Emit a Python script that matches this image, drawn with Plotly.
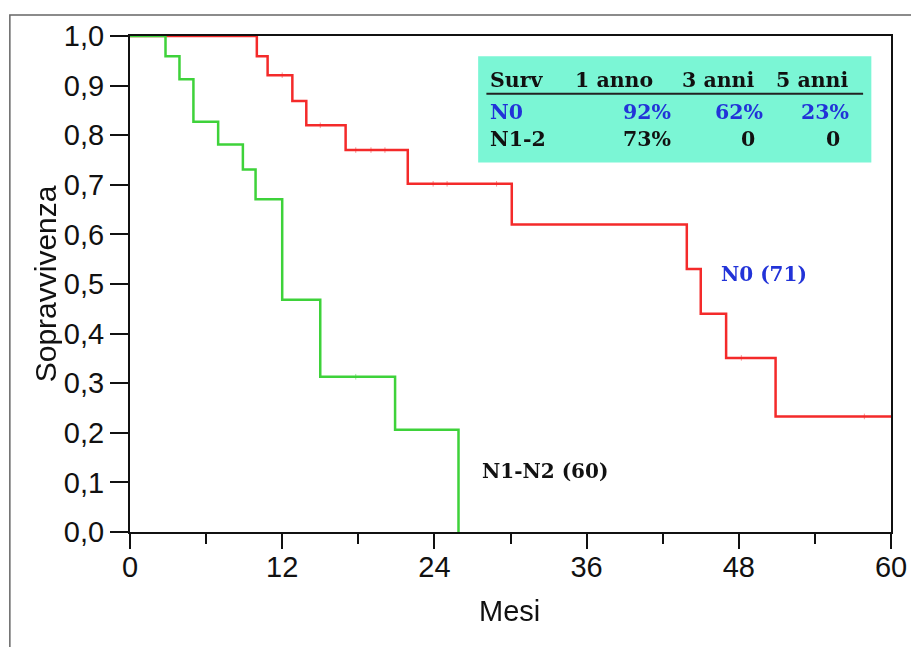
import plotly.graph_objects as go

# ---- data ----
n0_months = [0, 10, 10.85, 12.8, 13.9, 17.0, 21.9, 30.1, 43.9, 45.0, 47.0, 50.9, 60]
n0_surv = [1.0, 0.959, 0.921, 0.869, 0.820, 0.770, 0.702, 0.620, 0.530, 0.440, 0.351, 0.233, 0.233]
n0_censored = [12.0, 15.0, 17.8, 19.0, 20.1, 23.9, 25.0, 28.9, 48.2, 57.9]

n12_months = [0, 2.8, 3.9, 5.0, 6.95, 8.9, 9.9, 12.0, 15.0, 20.9, 25.9]
n12_surv = [1.0, 0.959, 0.913, 0.827, 0.781, 0.731, 0.671, 0.468, 0.313, 0.206, 0.0]
n12_censored = [17.8]

table_header = ["Surv", "1 anno", "3 anni", "5 anni"]
table_rows = ["N0", "N1-2"]
table_values = [["92%", "62%", "23%"], ["73%", "0", "0"]]

x_ticks = [0, 12, 24, 36, 48, 60]
y_ticks = [0.0, 0.1, 0.2, 0.3, 0.4, 0.5, 0.6, 0.7, 0.8, 0.9, 1.0]


def step_value(times, surv, t):
    v = surv[0]
    for ti, si in zip(times, surv):
        if ti <= t:
            v = si
    return v


RED = "#f42a2a"
GREEN = "#3ed23a"
BLUE = "#2233d8"

W, H = 911, 639
ML, MR, MT, MB = 122, 21, 22, 115
PW, PH = W - ML - MR, H - MT - MB

fig = go.Figure()
fig.add_trace(go.Scatter(x=n0_months, y=n0_surv, mode="lines", line_shape="hv",
                         line=dict(color=RED, width=2.5), name="N0 (71)"))
fig.add_trace(go.Scatter(x=n12_months, y=n12_surv, mode="lines", line_shape="hv",
                         line=dict(color=GREEN, width=2.5), name="N1-N2 (60)"))
fig.add_trace(go.Scatter(x=n0_censored, y=[step_value(n0_months, n0_surv, t) for t in n0_censored],
                         mode="markers", opacity=0.5,
                         marker=dict(symbol="line-ns", size=4, line=dict(color=RED, width=1)),
                         showlegend=False, hoverinfo="skip"))
fig.add_trace(go.Scatter(x=n12_censored, y=[step_value(n12_months, n12_surv, t) for t in n12_censored],
                         mode="markers", opacity=0.5,
                         marker=dict(symbol="line-ns", size=4, line=dict(color=GREEN, width=1)),
                         showlegend=False, hoverinfo="skip"))

AX_FONT = dict(family="Liberation Sans, Arial, sans-serif", size=29, color="#111")

fig.update_xaxes(range=[0, 60], tickvals=x_ticks, ticks="outside", ticklen=15, tickwidth=2,
                 tickcolor="#111", showline=True, linecolor="#111", linewidth=2, mirror=True,
                 showgrid=False, zeroline=False, tickfont=AX_FONT, ticklabelstandoff=-7,
                 minor=dict(dtick=6, tick0=0, ticks="outside", ticklen=10, tickwidth=2,
                            tickcolor="#111", showgrid=False))
fig.update_yaxes(range=[0, 1], tickvals=y_ticks, tickformat=".1f", ticks="outside", ticklen=18,
                 tickwidth=2, tickcolor="#111", showline=True, linecolor="#111", linewidth=2,
                 mirror=True, showgrid=False, zeroline=False, tickfont=AX_FONT)

shapes = []
# outer frame (paper-relative, drawn at the figure's top/left edge)
shapes.append(dict(type="rect", xref="paper", yref="paper",
                   x0=(0.75 - ML) / PW, x1=1.2, y0=-0.5, y1=1 + (MT - 0.75) / PH,
                   line=dict(color="#666", width=1.5), fillcolor="rgba(0,0,0,0)", layer="below"))
# table box
shapes.append(dict(type="rect", xref="x", yref="y", x0=27.45, x1=58.45, y0=0.745, y1=0.959,
                   line=dict(width=0), fillcolor="#7bf6d5", layer="below"))
# header underline
shapes.append(dict(type="line", xref="x", yref="y", x0=28.1, x1=57.8, y0=0.8835, y1=0.8835,
                   line=dict(color="#222", width=2)))

TB = dict(family="DejaVu Serif, serif", size=20.5, color="#111")
TBB = dict(TB, color=BLUE)

ann = []
header_x = [28.2, 34.9, 43.4, 50.8]
for h, x in zip(table_header, header_x):
    ann.append(dict(x=x, y=0.911, xref="x", yref="y", text="<b>" + h + "</b>", showarrow=False,
                    xanchor="left", yanchor="middle", font=TB))
row_y = [0.847, 0.793]
val_x = [42.8, 50.1, 56.85]
zero_x = [49.4, 56.1]
for r, (name, vals) in enumerate(zip(table_rows, table_values)):
    f = TBB if r == 0 else TB
    ann.append(dict(x=28.2, y=row_y[r], xref="x", yref="y", text="<b>" + name + "</b>",
                    showarrow=False, xanchor="left", yanchor="middle", font=f))
    for c, v in enumerate(vals):
        xx = val_x[c] if v.endswith("%") else zero_x[c - 1]
        ann.append(dict(x=xx, y=row_y[r], xref="x", yref="y", text="<b>" + v + "</b>",
                        showarrow=False, xanchor="right", yanchor="middle", font=f))

LBL = dict(family="DejaVu Serif, serif", size=20)
ann.append(dict(x=50.0, y=0.521, xref="x", yref="y", text="<b>N0 (71)</b>", showarrow=False,
                font=dict(LBL, color=BLUE)))
ann.append(dict(x=32.7, y=0.123, xref="x", yref="y", text="<b>N1-N2 (60)</b>", showarrow=False,
                font=dict(LBL, color="#111")))
# axis titles
ann.append(dict(x=0.4993, y=-80 / PH, xref="paper", yref="paper", text="Mesi", showarrow=False,
                font=AX_FONT, xanchor="center", yanchor="middle"))
ann.append(dict(x=-85 / PW, y=0.501, xref="paper", yref="paper", text="Sopravvivenza",
                showarrow=False, textangle=-90, font=dict(AX_FONT, size=30),
                xanchor="center", yanchor="middle"))

fig.update_layout(width=W, height=H, margin=dict(l=ML, r=MR, t=MT, b=MB),
                  plot_bgcolor="white", paper_bgcolor="white", showlegend=False,
                  separators=", ", shapes=shapes, annotations=ann)

fig.write_html("out.html")
